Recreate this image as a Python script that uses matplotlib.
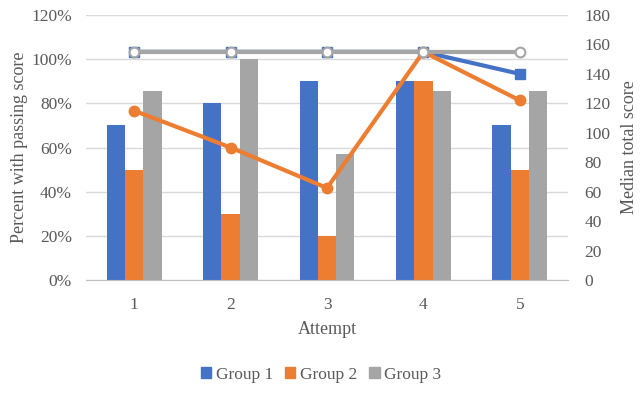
import matplotlib.pyplot as plt
import numpy as np
from matplotlib.patches import Patch

plt.rcParams['font.family'] = ['Liberation Serif', 'DejaVu Serif']

attempts = ['1', '2', '3', '4', '5']
groups = ['Group 1', 'Group 2', 'Group 3']
colors = ['#4472C4', '#ED7D31', '#A5A5A5']

# percent with passing score (bars, left axis)
pass_g1 = [70, 80, 90, 90, 70]
pass_g2 = [50, 30, 20, 90, 50]
pass_g3 = [85.7, 100, 57.1, 85.7, 85.7]

# median total score (lines, right axis)
med_g1 = [155, 155, 155, 155, 140]
med_g2 = [115, 90, 62.5, 155, 122]
med_g3 = [155, 155, 155, 155, 155]

fig = plt.figure(figsize=(6.42, 3.94), dpi=100)
ax = fig.add_axes([86 / 642, 1 - 280 / 394, 482 / 642, 265 / 394])

x = np.arange(len(attempts))
w = 0.19
for i, vals in enumerate([pass_g1, pass_g2, pass_g3]):
    ax.bar(x + (i - 1) * w, vals, w, color=colors[i], zorder=2)

ax.set_xlim(-0.5, len(attempts) - 0.5)
ax.set_ylim(0, 120)
ax.set_yticks(range(0, 121, 20))
ax.set_yticklabels(['{}%'.format(v) for v in range(0, 121, 20)])
ax.set_xticks(x)
ax.set_xticklabels(attempts)
ax.grid(axis='y', color='#D9D9D9', lw=1, zorder=0)
for s in ['top', 'right', 'left']:
    ax.spines[s].set_visible(False)
ax.spines['bottom'].set_color('#BFBFBF')
ax.tick_params(axis='y', length=0, labelsize=12.5, colors='#595959', pad=10)
ax.tick_params(axis='x', length=0, labelsize=12.5, colors='#595959', pad=12)
ax.set_xlabel('Attempt', fontsize=13, color='#595959', labelpad=6)
ax.set_ylabel('Percent with passing score', fontsize=13, color='#595959', labelpad=2.5)

ax2 = ax.twinx()
ax2.set_ylim(0, 180)
ax2.set_yticks(range(0, 181, 20))
for s in ['top', 'right', 'left', 'bottom']:
    ax2.spines[s].set_visible(False)
ax2.tick_params(axis='y', length=0, labelsize=12.5, colors='#595959', pad=12)
ax2.set_ylabel('Median total score', fontsize=13, color='#595959', labelpad=7)

ax2.plot(x, med_g1, color=colors[0], lw=3, marker='s', ms=7, zorder=3)
ax2.plot(x, med_g2, color=colors[1], lw=3, marker='o', ms=7.5, zorder=4)
ax2.plot(x, med_g3, color=colors[2], lw=3, marker='o', ms=7, mfc='white',
         mec=colors[2], mew=1.5, zorder=5)

handles = [Patch(color=c) for c in colors]
fig.legend(handles, groups, loc='center', bbox_to_anchor=(0.5, 1 - 375 / 394),
           ncol=3, frameon=False, fontsize=12.5, handlelength=0.6, handleheight=0.6,
           handletextpad=0.25, columnspacing=0.7, labelcolor='#595959')

fig.savefig('out.png', dpi=100)
